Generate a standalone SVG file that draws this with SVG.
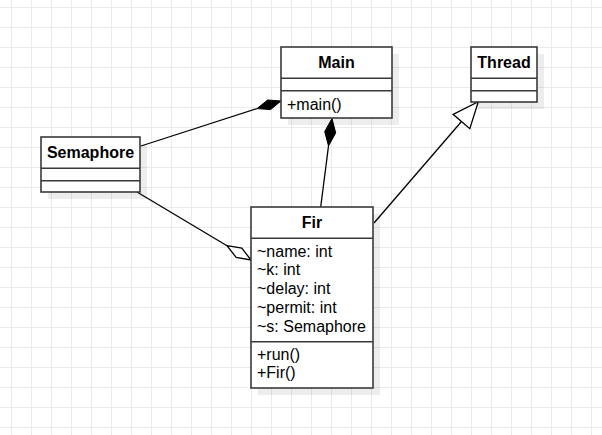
<svg xmlns="http://www.w3.org/2000/svg" width="602" height="435" viewBox="0 0 602 435">
<style>
.box{fill:#fff;stroke:#3a3a3a;stroke-width:1.6}
.sep{stroke:#3a3a3a;stroke-width:1.6;fill:none}
.shadow{fill:#000;fill-opacity:0.07}
.title{font-family:"Liberation Sans",Arial,sans-serif;font-size:16px;font-weight:bold;text-anchor:middle;fill:#000}
.txt{font-family:"Liberation Sans",Arial,sans-serif;font-size:16px;fill:#000}
.edge{stroke:#000;stroke-width:1.3;fill:none}
</style>
<defs>
<pattern id="grid" x="11" y="7" width="20" height="20" patternUnits="userSpaceOnUse">
<path d="M0 0.5H20M0.5 0V20" stroke="#ebebeb" stroke-width="1" fill="none"/>
</pattern>
</defs>
<rect width="602" height="435" fill="#fff"/>
<rect width="602" height="435" fill="url(#grid)"/>

<g id="connectors">
<!-- Semaphore to Main composition -->
<line class="edge" x1="141" y1="146" x2="257" y2="108.6"/>
<polygon points="281,101 267.6,100 257,108.6 270.6,109.6" fill="#000" stroke="#000" stroke-width="1"/>
<!-- Main to Fir composition -->
<line class="edge" x1="328.5" y1="146" x2="320.7" y2="207"/>
<polygon points="332,118.5 335.7,132.9 328.5,146 324.7,131.5" fill="#000" stroke="#000" stroke-width="1"/>
<!-- Semaphore to Fir aggregation -->
<line class="edge" x1="137" y1="192" x2="227" y2="245.7"/>
<polygon points="251,260 241.8,248.1 227,245.7 236.2,257.5" fill="#fff" stroke="#000" stroke-width="1.3"/>
<!-- Fir to Thread generalization -->
<line class="edge" x1="374" y1="223" x2="461.5" y2="121.5"/>
<polygon points="478.3,101.7 469.8,128.7 453.1,114.3" fill="#fff" stroke="#000" stroke-width="1.3"/>
</g>

<g id="Main">
<rect class="shadow" x="288" y="54" width="111" height="71"/>
<rect class="box" x="281" y="47" width="111" height="71"/>
<path class="sep" d="M281 78.3H392M281 90.7H392"/>
<text class="title" x="336.5" y="68">Main</text>
<text class="txt" x="287" y="109.5">+main()</text>
</g>

<g id="Thread">
<rect class="shadow" x="478" y="54" width="66" height="55"/>
<rect class="box" x="471" y="47" width="66" height="55"/>
<path class="sep" d="M471 78.3H537M471 90.7H537"/>
<text class="title" x="504" y="68">Thread</text>
</g>

<g id="Semaphore">
<rect class="shadow" x="48" y="144" width="99" height="55"/>
<rect class="box" x="41" y="137" width="99" height="55"/>
<path class="sep" d="M41 168.3H140M41 180.7H140"/>
<text class="title" x="90.5" y="158">Semaphore</text>
</g>

<g id="Fir">
<rect class="shadow" x="258" y="214" width="122" height="181"/>
<rect class="box" x="251" y="207" width="122" height="181"/>
<path class="sep" d="M251 238.3H373M251 341.7H373"/>
<text class="title" x="312" y="228">Fir</text>
<text class="txt" x="257" y="256.5">~name: int</text>
<text class="txt" x="257" y="275.3">~k: int</text>
<text class="txt" x="257" y="294">~delay: int</text>
<text class="txt" x="257" y="312.8">~permit: int</text>
<text class="txt" x="257" y="331.6">~s: Semaphore</text>
<text class="txt" x="257" y="359.5">+run()</text>
<text class="txt" x="257" y="378.3">+Fir()</text>
</g>
</svg>
